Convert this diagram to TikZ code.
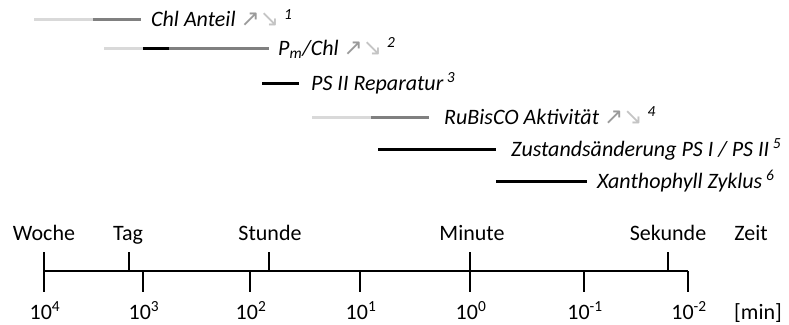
\documentclass[tikz,border=0pt]{standalone}
\usepackage{fontspec}
\setmainfont{Carlito}
\newfontfamily\arrowfont{DejaVu Sans}
\definecolor{barlight}{HTML}{D9D9D9}
\definecolor{bardark}{HTML}{808080}
\definecolor{arrup}{HTML}{9A9A9A}
\definecolor{arrdown}{HTML}{C4C4C4}
\newcommand{\trend}{{\arrowfont\fontsize{23}{23}\selectfont\textcolor{arrup}{↗}\textcolor{arrdown}{↘}}}
\newcommand{\note}[1]{\textsuperscript{#1}}
\begin{document}
\begin{tikzpicture}[x=1pt,y=-1pt,
  every node/.style={font=\fontsize{22}{26}\selectfont, inner sep=0pt},
  bar/.style={line width=3pt},
  lightbar/.style={bar, barlight},
  darkbar/.style={bar, bardark},
  blackbar/.style={bar, black},
  proc/.style={anchor=base west, font=\fontsize{22}{26}\selectfont\itshape},
  axis/.style={line width=2.2pt, black},
  tick/.style={line width=2.2pt, black},
  unit/.style={anchor=base},
]
\useasboundingbox (0,0) rectangle (789,324);

% process bars (light = slow phase, dark = main range)
\draw[lightbar] (34,19) -- (93,19);
\draw[darkbar]  (93,19) -- (141,19);
\node[proc] (chl) at (151,27) {Chl Anteil \trend\ \note{1}};

\draw[lightbar] (104,48) -- (143,48);
\draw[blackbar] (143,48) -- (169,48);
\draw[darkbar]  (169,48) -- (269,48);
\node[proc] (pm) at (278,55) {P\textsubscript{m}/Chl \trend\ \note{2}};

\draw[blackbar] (262,83) -- (299,83);
\node[proc] (ps2) at (311,90) {PS II Reparatur\,\note{3}};

\draw[lightbar] (312,117) -- (371,117);
\draw[darkbar]  (371,117) -- (429,117);
\node[proc] (rub) at (444,124) {RuBisCO Aktivität \trend\ \note{4}};

\draw[blackbar] (378,149) -- (496,149);
\node[proc] (zust) at (511,156) {Zustandsänderung PS I / PS II\,\note{5}};

\draw[blackbar] (496,181) -- (587,181);
\node[proc] (xan) at (597,188) {Xanthophyll Zyklus\,\note{6}};

% time axis
\coordinate (a0) at (44,271);
\coordinate (a1) at (688,271);
\draw[axis] (a0) -- (a1);

% decade ticks below the axis
\foreach \x/\e [count=\i] in {44/4,143/3,250/2,360/1,470/0,584/-1,688/-2}{
  \draw[tick] (\x,271) -- (\x,292);
  \node[unit] (d\i) at (\x+1,319) {10\textsuperscript{\e}};
}
% named time spans above the axis
\foreach \x in {44,129,269,470,668}{
  \draw[tick] (\x,252) -- (\x,271);
}
\node[unit] (woche) at (44,240) {Woche};
\node[unit] (tag) at (128,240) {Tag};
\node[unit] (stunde) at (270,240) {Stunde};
\node[unit] (minute) at (472,240) {Minute};
\node[unit] (sekunde) at (668,240) {Sekunde};
\node[unit] (zeit) at (751,240) {Zeit};
\node[unit] (min) at (758,319) {[min]};
\end{tikzpicture}
\end{document}
